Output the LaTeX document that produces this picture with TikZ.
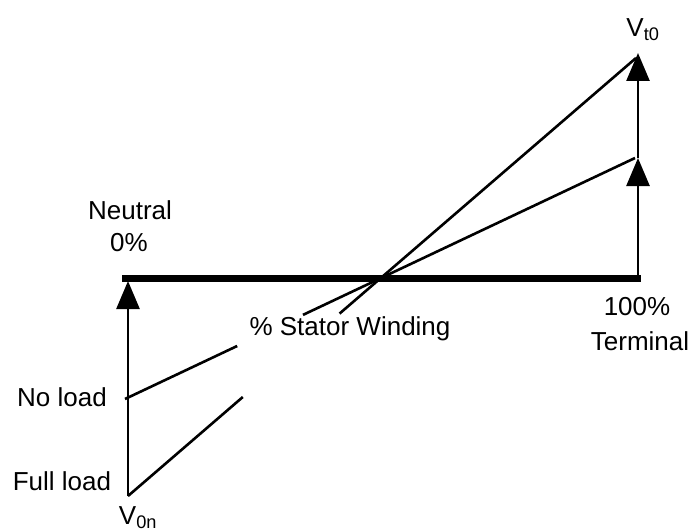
\documentclass[tikz,border=0pt]{standalone}
\usepackage{fontspec}
\setmainfont{Liberation Sans}
\usetikzlibrary{arrows.meta,calc}
\begin{document}
\begin{tikzpicture}[x=1pt,y=-1pt,
    wire/.style={line width=2.6pt},
    vec/.style={wire,-{Triangle[length=28pt,width=23pt]}},
    lbl/.style={font=\fontsize{26}{30}\selectfont,inner sep=0pt}]
    \useasboundingbox (0,0) rectangle (688,532);

    % Winding ends and voltage points
    \coordinate (neutral) at (122,278);
    \coordinate (terminal) at (641,278);
    \coordinate (n0) at (128,281);
    \coordinate (t0) at (638,278);
    \coordinate (V0n) at (128,496);
    \coordinate (Vnl) at (125,399);
    \coordinate (Vt0) at (638,53);
    \coordinate (Vtn) at (638,158);
    \coordinate (fl) at (636,58);
    \coordinate (nl) at (635,158);

    % Stator winding
    \draw[line width=7pt] (neutral) -- (terminal);

    % Voltage arrows
    \draw[vec] (V0n) -- (n0);
    \draw[vec] (t0) -- (Vtn);
    \draw[vec] (Vtn) -- (Vt0);

    % Full load line (broken at the label)
    \draw[wire] (V0n) -- ($(V0n)!0.226!(fl)$);
    \draw[wire] ($(V0n)!0.4165!(fl)$) -- (fl);
    % No load line (broken at the label)
    \draw[wire] (Vnl) -- ($(Vnl)!0.22!(nl)$);
    \draw[wire] ($(Vnl)!0.349!(nl)$) -- (nl);

    % Labels
    \node[lbl] (vt) at (643,30) {V\textsubscript{t0}};
    \node[lbl] (vn) at (138,518) {V\textsubscript{0n}};
    \node[lbl] (neu) at (130,210) {Neutral};
    \node[lbl] (zero) at (129,243) {0\%};
    \node[lbl] (full) at (637,307) {100\%};
    \node[lbl] (term) at (640,341) {Terminal};
    \node[lbl] (sw) at (350,329) {\% Stator Winding};
    \node[lbl] (noload) at (62,397) {No load};
    \node[lbl] (fullload) at (62,481) {Full load};
\end{tikzpicture}
\end{document}
